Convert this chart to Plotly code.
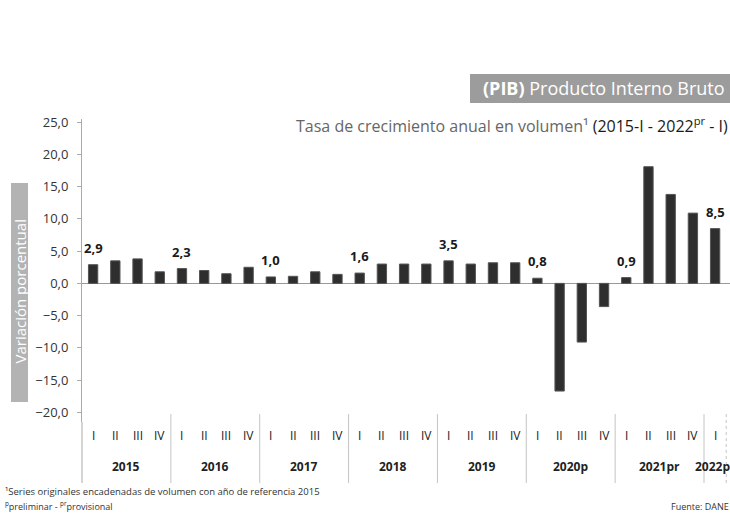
import plotly.graph_objects as go

quarters = ["I", "II", "III", "IV"] * 7 + ["I"]
years = ["2015", "2016", "2017", "2018", "2019", "2020p", "2021pr", "2022pr"]
values = [2.9, 3.5, 3.8, 1.8, 2.3, 2.0, 1.5, 2.5, 1.0, 1.1, 1.8, 1.4,
          1.6, 3.0, 3.0, 3.0, 3.5, 3.0, 3.2, 3.2, 0.8, -16.7, -9.1, -3.6,
          0.9, 18.1, 13.8, 10.9, 8.5]
label_idx = [0, 4, 8, 12, 16, 20, 24, 28]
yticks = [25, 20, 15, 10, 5, 0, -5, -10, -15, -20]

W, H = 730, 514
L, R, T, B = 82, 0, 119, 92
FONT = "Open Sans"

def px(x):
    return (x - L) / (W - L - R)

def py(y):
    return (H - B - y) / (H - T - B)

x = list(range(len(values)))
fig = go.Figure()
fig.add_trace(go.Bar(x=x, y=values, width=0.42,
                     marker=dict(color="#2e2e2e", line=dict(color="#555555", width=1)),
                     hoverinfo="skip"))

ann = []
for i in label_idx:
    ann.append(dict(x=i, y=values[i], xref="x", yref="y", xanchor="center", yanchor="middle",
                    text="<b>" + f"{values[i]:.1f}".replace(".", ",") + "</b>",
                    showarrow=False, yshift=17, font=dict(family=FONT, size=13, color="#1a1a1a")))
for i, q in enumerate(quarters):
    ann.append(dict(x=i, y=py(436), xref="x", yref="paper", xanchor="center", yanchor="middle",
                    text=q, showarrow=False, font=dict(family=FONT, size=12, color="#222")))
for j, yr in enumerate(years):
    cx = j * 4 + 1.5 if j < 7 else 28
    ann.append(dict(x=cx, y=py(466), xref="x", yref="paper", xanchor="center", yanchor="middle",
                    text="<b>" + yr + "</b>", showarrow=False,
                    font=dict(family=FONT, size=12, color="#222")))

# title box
ann.append(dict(x=px(727), y=py(88), xref="paper", yref="paper", xanchor="right", yanchor="middle",
                text="<b>(PIB)</b> Producto Interno Bruto", showarrow=False,
                font=dict(family=FONT, size=18, color="white")))
ann.append(dict(x=px(730), y=py(125), xref="paper", yref="paper", xanchor="right", yanchor="middle",
                text="Tasa de crecimiento anual en volumen¹ <span style='color:#1a1a1a'>(2015-I - 2022<sup>pr</sup> - I)</span>",
                showarrow=False, font=dict(family=FONT, size=16, color="#666666")))
# y title
ann.append(dict(x=px(19.5), y=py(292), xref="paper", yref="paper", xanchor="center", yanchor="middle",
                textangle=-90, text="Variación porcentual", showarrow=False,
                font=dict(family=FONT, size=15, color="white")))
# footnotes
ann.append(dict(x=px(3), y=py(491), xref="paper", yref="paper", xanchor="left", yanchor="middle",
                text="¹Series originales encadenadas de volumen con año de referencia 2015", showarrow=False,
                font=dict(family=FONT, size=9.5, color="#333")))
ann.append(dict(x=px(3), y=py(506), xref="paper", yref="paper", xanchor="left", yanchor="middle",
                text="<sup>p</sup>preliminar - <sup>pr</sup>provisional", showarrow=False,
                font=dict(family=FONT, size=9, color="#333")))
ann.append(dict(x=px(731), y=py(506), xref="paper", yref="paper", xanchor="right", yanchor="middle",
                text="Fuente: DANE", showarrow=False,
                font=dict(family=FONT, size=9, color="#333")))

shapes = [
    dict(type="rect", xref="paper", yref="paper", x0=px(470), x1=px(731), y0=py(74), y1=py(103),
         fillcolor="#9c9c9c", line=dict(width=0), layer="below"),
    dict(type="rect", xref="paper", yref="paper", x0=px(11), x1=px(28), y0=py(183), y1=py(402),
         fillcolor="#b3b3b3", line=dict(width=0), layer="below"),
    dict(type="line", xref="paper", yref="paper", x0=0, x1=0, y0=0, y1=py(483),
         line=dict(color="#aaaaaa", width=1)),
]
for k in [4, 8, 12, 16, 20, 24, 28]:
    shapes.append(dict(type="line", xref="x", yref="paper", x0=k - 0.5, x1=k - 0.5, y0=py(414), y1=py(483),
                       line=dict(color="#c4c4c4", width=1)))
shapes.append(dict(type="line", xref="x", yref="paper", x0=28.5, x1=28.5, y0=py(414), y1=py(483),
                   line=dict(color="#c4c4c4", width=1, dash="dot")))

fig.update_layout(
    width=W, height=H, margin=dict(l=L, r=R, t=T, b=B, autoexpand=False),
    paper_bgcolor="white", plot_bgcolor="white", showlegend=False,
    separators=",.", annotations=ann, shapes=shapes,
    font=dict(family=FONT),
    xaxis=dict(range=[-0.5, 28.67], showticklabels=False, showgrid=False, zeroline=False, showline=False),
    yaxis=dict(range=[-21.5, 25.5], tickvals=yticks, tickformat=".1f", showgrid=False, automargin=False,
               showline=True, linecolor="#aaaaaa", ticks="outside", ticklen=4, tickcolor="#aaaaaa",
               zeroline=True, zerolinecolor="#999999", zerolinewidth=1,
               tickfont=dict(family=FONT, size=13, color="#333"), ticklabelstandoff=6),
)
fig.write_html("out.html", config={"displayModeBar": False},
               post_script="document.body.style.margin='0px';document.body.style.overflow='hidden';")
